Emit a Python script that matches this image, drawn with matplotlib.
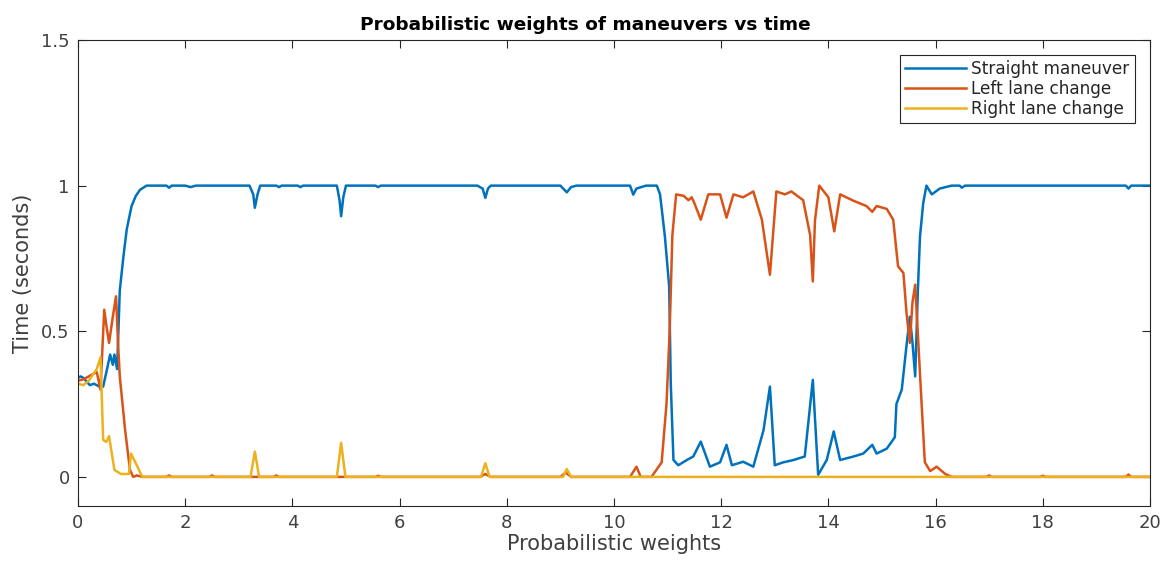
import matplotlib.pyplot as plt

# Valores (x, y) para cada serie
x_recto = [0.0, 0.05, 0.1, 0.15, 0.22, 0.3, 0.4, 0.47, 0.53, 0.6, 0.65, 0.68, 0.73,
           0.78, 0.85, 0.91, 1.0, 1.08, 1.16, 1.28, 1.65, 1.7, 1.75, 2.0, 2.1, 2.2,
           3.2, 3.27, 3.3, 3.35, 3.4, 3.7, 3.75, 3.8, 4.1, 4.15, 4.2, 4.83, 4.88, 4.91,
           4.95, 5.0, 5.55, 5.6, 5.65, 7.45, 7.55, 7.6, 7.65, 7.7, 9.0, 9.12, 9.2, 9.3,
           10.3, 10.36, 10.42, 10.6, 10.8, 10.86, 10.95, 11.03, 11.06, 11.11, 11.2,
           11.36, 11.48, 11.62, 11.79, 11.98, 12.1, 12.2, 12.41, 12.6, 12.79, 12.91,
           13.0, 13.16, 13.35, 13.56, 13.71, 13.81, 13.97, 14.1, 14.22, 14.47, 14.65,
           14.82, 14.9, 15.09, 15.24, 15.27, 15.37, 15.45, 15.52, 15.57, 15.62, 15.67,
           15.71, 15.77, 15.83, 15.93, 16.08, 16.3, 16.45, 16.49, 16.55, 19.55, 19.6,
           19.65, 20.0]
y_recto = [0.34, 0.345, 0.34, 0.33, 0.315, 0.32, 0.31, 0.31, 0.36, 0.42, 0.385, 0.42, 0.37,
           0.64, 0.76, 0.85, 0.93, 0.965, 0.986, 1.0, 1.0, 0.993, 1.0, 1.0, 0.995, 1.0,
           1.0, 0.97, 0.924, 0.97, 1.0, 1.0, 0.995, 1.0, 1.0, 0.995, 1.0, 1.0, 0.95, 0.895,
           0.96, 1.0, 1.0, 0.995, 1.0, 1.0, 0.99, 0.958, 0.99, 1.0, 1.0, 0.977, 0.995, 1.0,
           1.0, 0.969, 0.99, 1.0, 1.0, 0.97, 0.826, 0.654, 0.32, 0.058, 0.04,
           0.058, 0.07, 0.121, 0.035, 0.05, 0.11, 0.04, 0.052, 0.035, 0.16, 0.31,
           0.04, 0.05, 0.058, 0.07, 0.333, 0.007, 0.058, 0.156, 0.058, 0.07, 0.08,
           0.11, 0.08, 0.097, 0.136, 0.25, 0.3, 0.437, 0.55, 0.46, 0.345, 0.64,
           0.826, 0.94, 1.0, 0.97, 0.99, 1.0, 1.0, 0.993, 1.0, 1.0, 0.99,
           1.0, 1.0]

x_izq = [0.0, 0.1, 0.2, 0.3, 0.35, 0.42, 0.49, 0.53, 0.58, 0.65, 0.71, 0.75, 0.78, 0.88,
         0.97, 1.03, 1.1, 1.2, 1.65, 1.7, 1.75, 2.45, 2.5, 2.55, 3.65, 3.7, 3.75, 5.55,
         5.6, 5.65, 7.5, 7.6, 7.7, 9.0, 9.1, 9.2, 10.3, 10.42, 10.5, 10.7, 10.89, 10.98,
         11.04, 11.09, 11.16, 11.3, 11.39, 11.45, 11.5, 11.62, 11.76, 11.98, 12.1, 12.23,
         12.41, 12.6, 12.76, 12.91, 13.03, 13.19, 13.31, 13.53, 13.66, 13.71, 13.75,
         13.83, 14.0, 14.11, 14.22, 14.47, 14.71, 14.82, 14.9, 15.09, 15.21, 15.3, 15.4,
         15.46, 15.52, 15.57, 15.62, 15.67, 15.74, 15.8, 15.9, 16.02, 16.18, 16.3,
         16.95, 17.0, 17.05, 17.95, 18.0, 18.05, 19.55, 19.6, 19.65, 20.0]
y_izq = [0.33, 0.335, 0.345, 0.355, 0.36, 0.3, 0.574, 0.52, 0.46, 0.55, 0.62, 0.45, 0.345, 0.16,
         0.024, 0.0, 0.005, 0.0, 0.0, 0.005, 0.0, 0.0, 0.005, 0.0, 0.0, 0.005, 0.0, 0.0,
         0.004, 0.0, 0.0, 0.01, 0.0, 0.0, 0.015, 0.0, 0.0, 0.035, 0.0, 0.0, 0.05, 0.25,
         0.505, 0.83, 0.97, 0.965, 0.95, 0.96, 0.94, 0.883, 0.97, 0.97, 0.89, 0.97,
         0.96, 0.98, 0.883, 0.694, 0.98, 0.97, 0.98, 0.95, 0.83, 0.671, 0.88,
         1.0, 0.96, 0.843, 0.97, 0.948, 0.93, 0.91, 0.93, 0.92, 0.883, 0.723, 0.7,
         0.56, 0.46, 0.6, 0.66, 0.49, 0.25, 0.05, 0.02, 0.035, 0.01, 0.0,
         0.0, 0.005, 0.0, 0.0, 0.004, 0.0, 0.0, 0.008, 0.0, 0.0]

x_der = [0.0, 0.1, 0.2, 0.35, 0.42, 0.47, 0.53, 0.58, 0.68, 0.8, 0.95, 0.99, 1.07, 1.2,
         3.22, 3.3, 3.38, 4.83, 4.91, 4.99, 7.52, 7.6, 7.68, 9.05, 9.12, 9.2, 20.0]
y_der = [0.32, 0.315, 0.33, 0.37, 0.41, 0.127, 0.12, 0.14, 0.024, 0.01, 0.01, 0.08, 0.05, 0.0,
         0.0, 0.087, 0.0, 0.0, 0.117, 0.0, 0.0, 0.047, 0.0, 0.0, 0.027, 0.0, 0.0]

gris = '#404040'

fig = plt.figure(figsize=(11.69, 5.69), dpi=100)
ax = fig.add_axes([0.0667, 0.1107, 0.917, 0.819])

ax.plot(x_recto, y_recto, color='#0072BD', lw=1.8, label='Straight maneuver')
ax.plot(x_izq, y_izq, color='#D95319', lw=1.8, label='Left lane change')
ax.plot(x_der, y_der, color='#EDB120', lw=1.8, label='Right lane change')

# Formato de ejes al estilo MATLAB
ax.set_xlim(0, 20)
ax.set_ylim(-0.1, 1.5)
ax.set_xticks(range(0, 21, 2))
ax.set_yticks([0, 0.5, 1, 1.5])
ax.set_yticklabels(['0', '0.5', '1', '1.5'])
ax.tick_params(direction='in', top=True, right=True, length=6, labelsize=13,
               colors='#262626', labelcolor=gris, pad=6)
for s in ax.spines.values():
    s.set_color('#262626')
    s.set_linewidth(0.8)

ax.set_xlabel('Probabilistic weights', fontsize=15, color=gris, labelpad=1)
ax.set_ylabel('Time (seconds)', fontsize=15, color=gris, labelpad=6)
ax.set_title('Probabilistic weights of maneuvers vs time', fontsize=13.3,
             fontweight='bold', pad=7, x=0.473)

leg = ax.legend(loc='upper right', fontsize=12.2, handlelength=3.6, fancybox=False,
                framealpha=1, edgecolor='#262626', borderaxespad=0.9,
                labelspacing=0.1, handletextpad=0.3, borderpad=0.3)
leg.get_frame().set_linewidth(0.8)
for t in leg.get_texts():
    t.set_color('#262626')

fig.savefig('out.png', dpi=100)
